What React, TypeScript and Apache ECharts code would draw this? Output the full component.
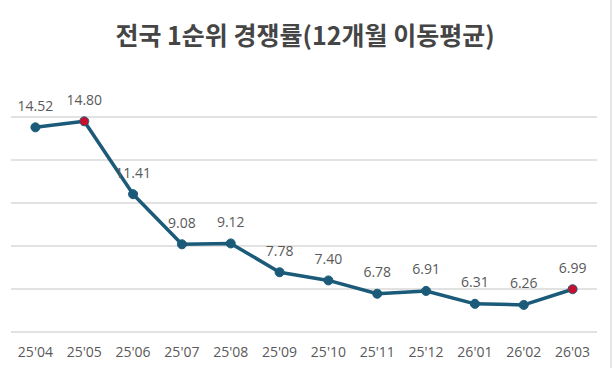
import React, { useEffect, useRef } from "react";
import * as echarts from "echarts";

const categories = ["25'04", "25'05", "25'06", "25'07", "25'08", "25'09", "25'10", "25'11", "25'12", "26'01", "26'02", "26'03"];
const values = [14.52, 14.8, 11.41, 9.08, 9.12, 7.78, 7.4, 6.78, 6.91, 6.31, 6.26, 6.99];
const highlighted = ["25'05", "26'03"];
const titleText = "전국 1순위 경쟁률(12개월 이동평균)";

export default function App() {
  const ref = useRef<HTMLDivElement>(null);
  useEffect(() => {
    if (!ref.current) return;
    const chart = echarts.init(ref.current, null, { renderer: "svg" });
    const lineColor = "#1b5b79";
    const red = "#c8102e";
    chart.setOption({
      animation: false,
      backgroundColor: "#ffffff",
      title: {
        text: titleText,
        left: 300,
        textAlign: "center",
        top: 16,
        textStyle: {
          fontFamily: "'Noto Sans CJK KR', sans-serif",
          fontSize: 25,
          fontWeight: "bold",
          color: "#454545",
        },
      },
      grid: { left: 11, right: 19, top: 117, bottom: 36, containLabel: false },
      xAxis: {
        type: "category",
        data: categories,
        boundaryGap: true,
        axisLine: { show: false },
        axisTick: { show: false },
        axisLabel: {
          color: "#595959",
          fontSize: 14,
          fontFamily: "'Open Sans', sans-serif",
          margin: 12,
        },
      },
      yAxis: {
        type: "value",
        min: 5,
        max: 15,
        interval: 2,
        axisLabel: { show: false },
        axisLine: { show: false },
        axisTick: { show: false },
        splitLine: { lineStyle: { color: "#d9d9d9", width: 1.5 } },
      },
      series: [
        {
          type: "line",
          data: values.map((v, i) => ({
            value: v,
            itemStyle: { color: highlighted.includes(categories[i]) ? red : lineColor },
          })),
          symbol: "circle",
          symbolSize: 9,
          lineStyle: { color: lineColor, width: 3.5 },
          itemStyle: { color: lineColor, borderColor: lineColor, borderWidth: 1 },
          label: {
            show: true,
            position: "top",
            distance: 10,
            color: "#595959",
            fontSize: 14,
            fontFamily: "'Open Sans', sans-serif",
            formatter: (p: any) => Number(p.value).toFixed(2),
          },
        },
      ],
      graphic: [
        {
          type: "line",
          shape: { x1: 611, y1: 0, x2: 611, y2: 368 },
          style: { stroke: "#e6e6e6", lineWidth: 2 },
        },
      ],
    });
    return () => chart.dispose();
  }, []);
  return <div ref={ref} style={{ width: 616, height: 368, position: "absolute", left: 0, top: 0 }} />;
}
